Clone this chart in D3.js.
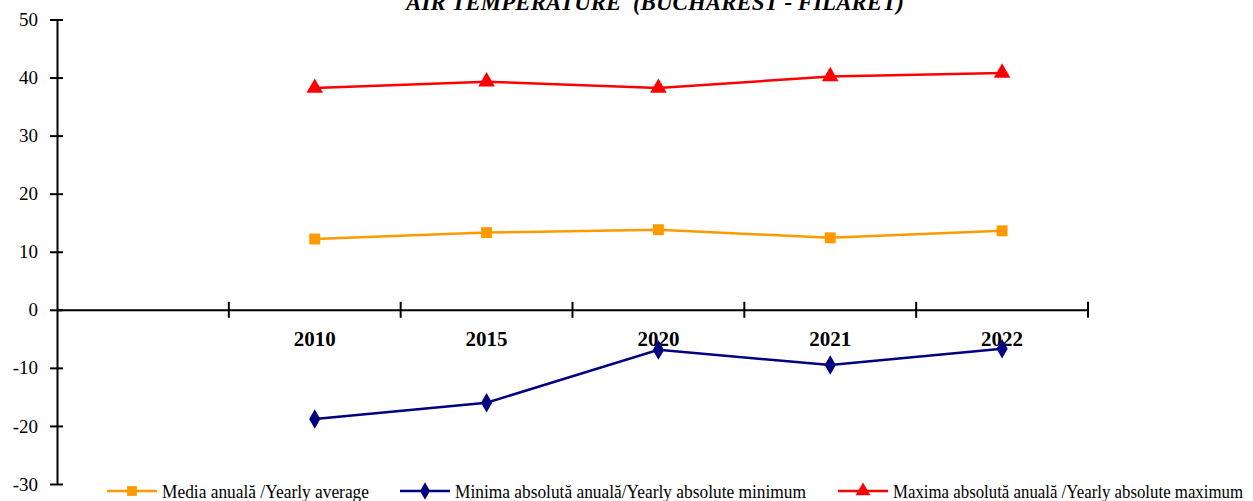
<!DOCTYPE html>
<html><head><meta charset="utf-8">
<script src="https://cdn.jsdelivr.net/npm/d3@7"></script>
<style>body{margin:0;background:#fff}svg{display:block}text{font-family:"Liberation Serif","Times New Roman",serif;fill:#000}</style>
</head><body><svg id="c" width="1253" height="501"></svg>
<script>
const categories = ["2010", "2015", "2020", "2021", "2022"];
const yearlyAverage = [12.2, 13.3, 13.8, 12.4, 13.6];
const yearlyMin = [-18.8, -16.0, -6.9, -9.5, -6.7];
const yearlyMax = [38.2, 39.3, 38.2, 40.2, 40.8];
const yTicks = [-30, -20, -10, 0, 10, 20, 30, 40, 50];
const seriesNames = ["Media anuală /Yearly average", "Minima absolută anuală/Yearly absolute minimum", "Maxima absolută anuală /Yearly absolute maximum"];
const title = "AIR TEMPERATURE  (BUCHAREST - FILARET)";

const svg = d3.select("#c");
const x = d3.scaleBand().domain([""].concat(categories)).range([57, 1088]);
const y = d3.scaleLinear().domain([-30, 50]).range([484, 19.5]);

// title
svg.append("text").attr("x", 655).attr("y", 10).attr("text-anchor", "middle")
  .style("font-size", "23px").style("font-weight", "bold").style("font-style", "italic")
  .style("white-space", "pre").text(title);

// y axis
const ya = svg.append("g").attr("transform", "translate(57,0)")
  .call(d3.axisLeft(y).tickValues(yTicks).tickSize(0).tickPadding(19).tickFormat(d => String(d)));
ya.attr("font-family", null).attr("font-size", null);
ya.select(".domain").attr("stroke", "#000").attr("stroke-width", 2);
ya.selectAll(".tick text").style("font-size", "19px").attr("fill", "#000");
ya.selectAll(".tick").append("line").attr("x1", -7).attr("x2", 6).attr("stroke", "#000").attr("stroke-width", 2);

// x axis at y=0
const xa = svg.append("g").attr("transform", `translate(0,${y(0)})`)
  .call(d3.axisBottom(x).tickSize(0).tickFormat(""));
xa.attr("font-family", null).attr("font-size", null).attr("fill", null);
xa.select(".domain").attr("stroke", "#000").attr("stroke-width", 2);
xa.selectAll(".tick").remove();
const bounds = x.domain().map(d => x(d) + x.bandwidth());
xa.selectAll(".xt").data(bounds).enter().append("line")
  .attr("x1", d => d).attr("x2", d => d).attr("y1", -8).attr("y2", 8)
  .attr("stroke", "#000").attr("stroke-width", 2);
xa.selectAll(".xl").data(categories).enter().append("text")
  .attr("x", d => x(d) + x.bandwidth() / 2).attr("y", 36).attr("text-anchor", "middle")
  .attr("fill", "#000")
  .style("font-size", "21px").style("font-weight", "bold").text(d => d);

const cx = d => x(d) + x.bandwidth() / 2;
const series = [
  {vals: yearlyAverage, color: "#FF9900", sym: d3.symbolSquare, size: 120},
  {vals: yearlyMin, color: "#000080", sym: d3.symbolDiamond, size: 110},
  {vals: yearlyMax, color: "#FF0000", sym: d3.symbolTriangle, size: 120}
];
series.forEach(s => {
  const pts = categories.map((c, i) => [cx(c), y(s.vals[i])]);
  svg.append("path").attr("d", d3.line()(pts)).attr("fill", "none").attr("stroke", s.color).attr("stroke-width", 2.5);
  svg.selectAll(null).data(pts).enter().append("path")
    .attr("transform", p => `translate(${p[0]},${p[1]})`)
    .attr("d", d3.symbol().type(s.sym).size(s.size)).attr("fill", s.color);
});

// legend
const legX = [107, 400, 838];
const legW = [207, 351, 350];
series.forEach((s, i) => {
  const g = svg.append("g").attr("transform", `translate(${legX[i]},491)`);
  g.append("line").attr("x1", 0).attr("x2", 50).attr("stroke", s.color).attr("stroke-width", 2.5);
  g.append("path").attr("transform", "translate(25,0)").attr("d", d3.symbol().type(s.sym).size(s.size * 0.8)).attr("fill", s.color);
  g.append("text").attr("x", 55).attr("y", 7).style("font-size", "19px")
    .attr("textLength", legW[i]).attr("lengthAdjust", "spacingAndGlyphs").text(seriesNames[i]);
});
</script></body></html>
